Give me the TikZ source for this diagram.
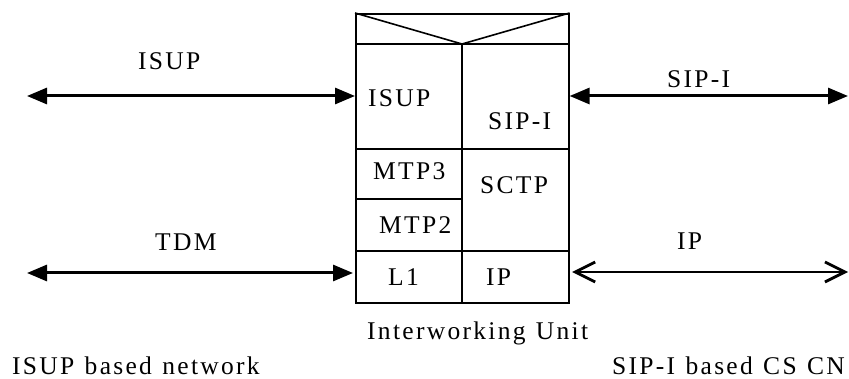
\documentclass[tikz,border=0pt]{standalone}
\usepackage{fontspec}
\setmainfont[LetterSpace=9,WordSpace=1.2]{Liberation Serif}
\usetikzlibrary{arrows.meta}
\begin{document}
\begin{tikzpicture}[x=1pt,y=-1pt,
  lbl/.style={anchor=base west,inner sep=0pt,font=\fontsize{25.5}{30}\selectfont},
  boxline/.style={line width=1.6pt},
  solidarrow/.style={line width=3pt,{Triangle[length=20pt,width=16pt]}-{Triangle[length=20pt,width=16pt]}},
  openarrow/.style={line width=2.8pt,{Straight Barb[length=20pt,width=20pt]}-{Straight Barb[length=20pt,width=20pt]}}]
\useasboundingbox (0,0) rectangle (849,379);
% Interworking unit box
\node[boxline,draw,rectangle,minimum width=213pt,minimum height=289pt,inner sep=0pt,anchor=north west] (iwu) at (355,13) {};
\coordinate (apex) at (462,44);
\draw[boxline] (355,44) -- (568,44);
\draw[boxline] (iwu.north west) -- (apex) -- (iwu.north east);
\draw[boxline] (apex) -- (462,302);
\draw[boxline] (355,149) -- (568,149);
\draw[boxline] (355,199) -- (462,199);
\draw[boxline] (355,251) -- (568,251);
% cell texts
\node[lbl] (cisup) at (368,107) {ISUP};
\node[lbl] (csipi) at (488,130) {SIP-I};
\node[lbl] (cmtp3) at (373,180) {MTP3};
\node[lbl] (csctp) at (480,194) {SCTP};
\node[lbl] (cmtp2) at (379,234) {MTP2};
\node[lbl] (cl1) at (388,286) {L1};
\node[lbl] (cip) at (486,286) {IP};
% connectors
\coordinate (lt) at (27,96);
\coordinate (rt) at (848,96);
\coordinate (lb) at (27,273);
\coordinate (rb) at (848,272);
\draw[solidarrow] (lt) -- (iwu.west |- lt);
\draw[solidarrow] (iwu.east |- rt) -- (rt);
\draw[solidarrow] (lb) -- (353,273);
\draw[openarrow] (572,272) -- (rb);
% labels
\node[lbl] (lisup) at (138,70) {ISUP};
\node[lbl] (ltdm) at (155,251) {TDM};
\node[lbl] (lsipi) at (667,88) {SIP-I};
\node[lbl] (lip) at (677,250) {IP};
\node[lbl] (liwu) at (367,340) {Interworking Unit};
\node[lbl] (lnet) at (12,374) {ISUP based network};
\node[lbl] (lcn) at (612,374) {SIP-I based CS CN};
\end{tikzpicture}
\end{document}
